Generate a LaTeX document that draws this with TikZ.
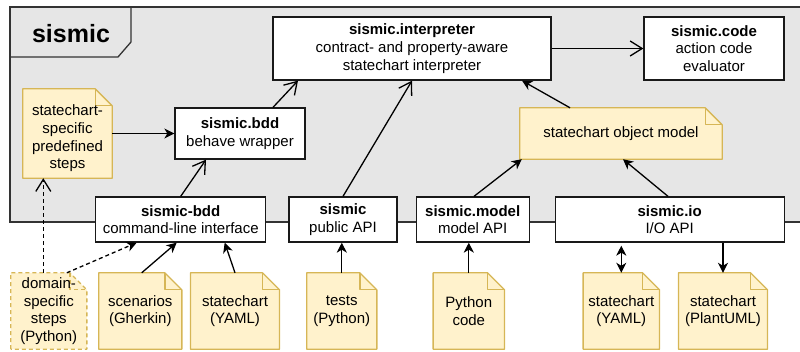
\documentclass[tikz,border=0pt]{standalone}
\usepackage{fontspec}
\setmainfont{Liberation Sans}
\usetikzlibrary{arrows.meta}
\pgfdeclarelayer{frame}
\pgfdeclarelayer{paper}
\pgfsetlayers{frame,paper,main}
\definecolor{framefill}{HTML}{E6E6E6}
\definecolor{frameline}{HTML}{333333}
\definecolor{notefill}{HTML}{FFF2CC}
\definecolor{noteline}{HTML}{D6B656}

% folded-corner outline behind a note node
\newcommand\dogear[2][]{%
  \filldraw[fill=notefill, draw=noteline, line width=1.3pt, line join=round, #1]
    (#2.south west) -- (#2.north west) -- ([xshift=-17pt]#2.north east)
    -- ([yshift=-17pt]#2.north east) -- (#2.south east) -- cycle;
  \draw[noteline, line width=1.3pt, line join=round, #1]
    ([xshift=-17pt]#2.north east) -- ([xshift=-17pt,yshift=-17pt]#2.north east)
    -- ([yshift=-17pt]#2.north east);
}

\tikzset{
  txt/.style={font=\fontsize{15}{17.7}\selectfont, align=center, inner sep=0pt},
  module/.style={txt, draw=black!90, fill=white, line width=1.3pt},
  paper/.style={txt, draw=none},
  fa/.style={-{Stealth[length=10pt,width=10pt,inset=3pt]}, line width=1.3pt, black},
  oa/.style={-{Straight Barb[length=12pt,width=15pt]}, line width=1.3pt, black},
  dashline/.style={dash pattern=on 4pt off 3pt},
}

\begin{document}
\begin{tikzpicture}[x=1pt, y=-1pt]
\useasboundingbox (0,0) rectangle (800,352);

% package frame with its name tab
\begin{pgfonlayer}{frame}
  \filldraw[fill=framefill, draw=frameline, line width=1.3pt]
    (10,7) rectangle (805,222);
  \draw[frameline, line width=1.3pt, line join=round]
    (131,7) -- (131,42) -- (118,57) -- (10,57);
\end{pgfonlayer}
\node[font=\bfseries\fontsize{25}{25}\selectfont, anchor=base, inner sep=0pt] (title) at (71,42.3) {sismic};

% modules inside the package
\node[module, minimum width=278pt, minimum height=63pt] (interp) at (412,48.5)
  {\textbf{sismic.interpreter}\\contract- and property-aware\\statechart interpreter};
\node[module, minimum width=140pt, minimum height=63pt] (code) at (714,48.5)
  {\textbf{sismic.code}\\action code\\evaluator};
\node[module, minimum width=130pt, minimum height=51pt] (bdd) at (240,133.5)
  {\textbf{sismic.bdd}\\behave wrapper};
\node[paper, minimum width=89pt, minimum height=89pt] (steps) at (67.5,133.5) {};
\node[txt] (stepstext) at ([yshift=-5pt]steps.center)
  {statechart-\\specific\\predefined\\steps};
\node[paper, minimum width=202pt, minimum height=51pt] (som) at (621,133.5)
  {statechart object model};

% entry points on the package border
\node[module, minimum width=170pt, minimum height=45pt] (cli) at (180.7,219.5)
  {\textbf{sismic-bdd}\\command-line interface};
\node[module, minimum width=108pt, minimum height=45pt] (api) at (343,219.5)
  {\textbf{sismic}\\public API};
\node[module, minimum width=113pt, minimum height=45pt] (model) at (472.7,219.5)
  {\textbf{sismic.model}\\model API};
\node[module, minimum width=229pt, minimum height=45pt] (io) at (669.7,219.5)
  {\textbf{sismic.io}\\I/O API};

% artefacts outside the package
\node[paper, minimum width=75.7pt, minimum height=76pt] (domain) at (48.8,311)
  {domain-\\specific\\steps\\(Python)};
\node[paper, minimum width=82.7pt, minimum height=76pt] (scen) at (140.3,311)
  {scenarios\\(Gherkin)};
\node[paper, minimum width=88.6pt, minimum height=76pt] (yamla) at (235,311)
  {statechart\\(YAML)};
\node[paper, minimum width=69.7pt, minimum height=76pt] (tests) at (341.8,311)
  {tests\\(Python)};
\node[paper, minimum width=71pt, minimum height=76pt] (pycode) at (468.8,311)
  {Python\\code};
\node[paper, minimum width=76pt, minimum height=76pt] (yamlb) at (621.3,311)
  {statechart\\(YAML)};
\node[paper, minimum width=88.6pt, minimum height=76pt] (puml) at (723,311)
  {statechart\\(PlantUML)};

\begin{pgfonlayer}{paper}
  \dogear{steps}
  \dogear{som}
  \dogear[dashline]{domain}
  \dogear{scen}
  \dogear{yamla}
  \dogear{tests}
  \dogear{pycode}
  \dogear{yamlb}
  \dogear{puml}
\end{pgfonlayer}

% dependencies
\draw[fa] (steps.east) -- (bdd.west);
\draw[oa] (cli.north) -- ([xshift=-34pt]bdd.south);
\draw[oa] ([xshift=33pt]bdd.north) -- ([xshift=-114pt]interp.south);
\draw[oa] (api.north) -- (interp.south);
\draw[oa] (interp.east) -- (code.west);
\draw[fa] ([xshift=-51pt]som.north) -- ([xshift=110pt]interp.south);
\draw[fa] ([xshift=1.3pt]model.north) -- ([xshift=2pt]som.south west);
\draw[fa] ([xshift=-1.7pt]io.north) -- ([xshift=2pt]som.south);

% inputs and outputs
\draw[fa] (tests.north) -- (tests.north |- api.south);
\draw[fa] (pycode.north) -- (pycode.north |- model.south);
\draw[{Stealth[length=10pt,width=10pt,inset=3pt]}-{Stealth[length=10pt,width=10pt,inset=3pt]}, line width=1.3pt]
  (yamlb.north) -- ([yshift=-3pt]yamlb.north |- io.south);
\draw[fa] (puml.north |- io.south) -- (puml.north);
\draw[fa] ([xshift=1.4pt]scen.north) -- ([xshift=-4pt]cli.south);
\draw[fa] (yamla.north) -- ([xshift=44pt]cli.south);
\draw[fa, dashline] ([xshift=18pt]domain.north) -- ([xshift=-44pt]cli.south);
\draw[oa, dashline] ([xshift=-5.5pt]domain.north) -- ([xshift=-24.2pt]steps.south);
\end{tikzpicture}
\end{document}
